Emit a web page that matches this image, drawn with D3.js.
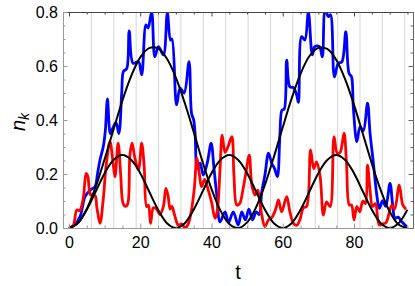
<!DOCTYPE html>
<html>
<head>
<meta charset="utf-8">
<script src="https://cdnjs.cloudflare.com/ajax/libs/d3/7.8.5/d3.min.js"></script>
<style>
body { margin: 0; background: #fff; }
text { font-family: "Liberation Sans", Arial, sans-serif; }
</style>
</head>
<body>
<svg width="415" height="286"></svg>
<script>
// tick values
var xTicks = [0, 20, 40, 60, 80],
	xMinor = [5, 10, 15, 25, 30, 35, 45, 50, 55, 65, 70, 75, 85, 90, 95],
	yTicks = [0, 0.2, 0.4, 0.6, 0.8],
	yMinor = [0.05, 0.1, 0.15, 0.25, 0.3, 0.35, 0.45, 0.5, 0.55, 0.65, 0.7, 0.75],
	gridT = [6.28, 12.57, 18.85, 25.13, 31.42, 37.7, 43.98, 50.27, 56.55, 62.83, 69.12, 75.4, 81.68, 87.96, 94.25];

// noisy curves
var blueT = [0, 1.5, 3.1, 4.5, 5.9, 7.3, 8.0, 8.7, 9.6, 10.2, 10.8, 11.6, 12.3, 13.2, 14.0, 14.8, 15.3, 16.2, 16.9, 18.0,
	19.5, 20.4, 21.6, 22.2, 23.2, 24.1, 25.1, 26.5, 27.6, 28.5, 28.9, 30.2, 31.2, 32.3, 33.7, 34.4, 35.0, 35.4, 36.0, 36.8,
	37.7, 38.8, 39.9, 40.7, 41.5, 42.4, 43.8, 44.8, 46.1, 47.5, 48.5, 49.5, 50.5, 51.5, 52.6, 53.4, 54.1, 55.0, 56.0, 56.9,
	57.7, 58.5, 59.2, 59.8, 60.4, 61.1, 62.0, 63.0, 63.9, 64.4, 65.3, 66.2, 67.2, 68.3, 69.0, 70.3, 71.1, 71.9, 72.8, 73.4,
	74.5, 75.6, 76.6, 77.7, 78.6, 79.3, 79.8, 80.8, 81.7, 82.6, 83.8, 84.5, 85.4, 86.4, 87.1, 88.0, 88.9, 90.1, 90.9, 91.5,
	92.4, 93.4, 94.8];
var blueN = [0, 0.01, 0.042, 0.116, 0.14, 0.153, 0.2, 0.252, 0.30, 0.36, 0.478, 0.35, 0.37, 0.39, 0.35, 0.50, 0.58, 0.59, 0.73, 0.61,
	0.616, 0.567, 0.752, 0.74, 0.80, 0.634, 0.672, 0.641, 0.797, 0.696, 0.70, 0.456, 0.518, 0.50, 0.616, 0.425, 0.40, 0.35, 0.22, 0.24,
	0.196, 0.24, 0.314, 0.22, 0.12, 0.023, 0.06, 0.02, 0.06, 0.011, 0.06, 0.03, 0.07, 0.03, 0.06, 0.05, 0.134, 0.196, 0.277, 0.24,
	0.22, 0.19, 0.344, 0.437, 0.44, 0.622, 0.523, 0.52, 0.493, 0.465, 0.709, 0.696, 0.80, 0.641, 0.672, 0.672, 0.634, 0.807, 0.783, 0.79,
	0.56, 0.61, 0.615, 0.727, 0.573, 0.56, 0.449, 0.32, 0.375, 0.36, 0.462, 0.351, 0.246, 0.122, 0.073, 0.10, 0.08, 0.165, 0.079, 0.036,
	0.04, 0.023, 0.005];

var redT = [0, 1.2, 2.2, 3.0, 4.0, 4.8, 5.3, 6.1, 7.3, 7.8, 8.7, 9.6, 10.4, 11.5, 12.3, 12.9, 13.8, 14.5, 15.2, 15.9,
	16.5, 17.1, 17.7, 18.5, 19.5, 20.4, 21.1, 21.8, 22.3, 22.9, 23.7, 24.6, 25.5, 26.5, 27.2, 27.8, 28.4, 28.9, 29.6, 30.7,
	31.6, 32.6, 33.5, 34.4, 35.2, 35.9, 36.6, 37.2, 38.1, 39.1, 40.0, 41.0, 41.6, 42.4, 43.0, 43.8, 44.6, 45.7, 46.3, 47.1,
	47.9, 48.8, 49.6, 50.6, 51.3, 52.2, 53.0, 54.1, 55.0, 56.0, 57.0, 58.1, 58.8, 59.7, 61.1, 62.0, 63.0, 63.9, 64.8, 65.8,
	66.7, 67.8, 68.7, 69.5, 70.5, 71.4, 72.3, 73.3, 74.4, 75.3, 76.1, 77.2, 77.9, 78.7, 79.3, 80.0, 80.8, 81.6, 82.5, 83.2,
	83.8, 84.5, 85.2, 86.0, 87.1, 88.0, 89.0, 90.6, 91.4, 92.7, 93.7, 94.6];
var redN = [0, 0.01, 0.067, 0.065, 0.11, 0.202, 0.19, 0.122, 0.12, 0.079, 0.017, 0.104, 0.227, 0.32, 0.25, 0.19, 0.314, 0.2, 0.091, 0.08,
	0.09, 0.27, 0.314, 0.26, 0.215, 0.314, 0.23, 0.079, 0.085, 0.017, 0.075, 0.07, 0.05, 0.08, 0.147, 0.12, 0.07, 0.08, 0.05, 0.01,
	0.015, 0.0, 0.016, 0.067, 0.15, 0.26, 0.2, 0.153, 0.18, 0.14, 0.097, 0.036, 0.06, 0.22, 0.344, 0.28, 0.30, 0.338, 0.196, 0.085,
	0.09, 0.14, 0.2, 0.27, 0.16, 0.122, 0.14, 0.048, 0.005, 0.03, 0.04, 0.073, 0.104, 0.06, 0.116, 0.06, 0.017, 0.01, 0.03, 0.075,
	0.08, 0.289, 0.22, 0.245, 0.19, 0.048, 0.097, 0.079, 0.338, 0.277, 0.28, 0.351, 0.24, 0.085, 0.085, 0.03, 0.08, 0.06, 0.1, 0.09,
	0.233, 0.14, 0.08, 0.09, 0.011, 0.015, 0.02, 0.085, 0.07, 0.159, 0.085, 0.07];

// smooth black curves, sampled every 2.5
var smoothT = [0, 2.5, 5, 7.5, 10, 12.5, 15, 17.5, 20, 22.5, 25, 27.5, 30, 32.5, 35, 37.5, 40, 42.5, 45, 47.5,
	50, 52.5, 55, 57.5, 60, 62.5, 65, 67.5, 70, 72.5, 75, 77.5, 80, 82.5, 85, 87.5, 90, 92.5, 95];
var bigN = [0, 0.018, 0.071, 0.153, 0.255, 0.365, 0.472, 0.564, 0.632, 0.666, 0.665, 0.627, 0.557, 0.463, 0.356, 0.245, 0.145, 0.065, 0.015, 0,
	0.021, 0.076, 0.160, 0.263, 0.373, 0.480, 0.571, 0.637, 0.667, 0.663, 0.623, 0.551, 0.456, 0.348, 0.239, 0.140, 0.061, 0.013, 0];
var smallN = [0, 0.018, 0.068, 0.135, 0.203, 0.252, 0.27, 0.252, 0.203, 0.135, 0.068, 0.018, 0, 0.018, 0.068, 0.135, 0.203, 0.252, 0.27, 0.252,
	0.203, 0.135, 0.068, 0.018, 0, 0.018, 0.068, 0.135, 0.203, 0.252, 0.27, 0.252, 0.203, 0.135, 0.068, 0.018, 0, 0.018, 0.068];

var svg = d3.select("svg"),
	pLeft = 63, pRight = 413, pTop = 12, pBottom = 228;

var x = d3.scaleLinear().domain([-1.68, 96.56]).range([pLeft, pRight]);
var y = d3.scaleLinear().domain([0, 0.8]).range([pBottom, pTop]);

svg.append("clipPath").attr("id", "clip")
	.append("rect").attr("x", pLeft).attr("y", pTop).attr("width", pRight - pLeft).attr("height", pBottom - pTop);

// grid lines
svg.append("g").selectAll("line")
	.data(gridT)
	.enter().append("line")
	.attr("x1", function(d) { return x(d); })
	.attr("x2", function(d) { return x(d); })
	.attr("y1", pTop).attr("y2", pBottom)
	.attr("stroke", "#d6d6d6").attr("stroke-width", 1);

var plot = svg.append("g").attr("clip-path", "url(#clip)");

var zip = function(ts, ns) {
	return ts.map(function(t, i) { return [t, ns[i]]; });
};

var line = d3.line()
	.x(function(d) { return x(d[0]); })
	.y(function(d) { return y(d[1]); })
	.curve(d3.curveCatmullRom.alpha(0.5));

plot.append("path").datum(zip(blueT, blueN))
	.attr("d", line).attr("fill", "none").attr("stroke", "#0000ff").attr("stroke-width", 2.8).attr("stroke-linejoin", "round");
plot.append("path").datum(zip(redT, redN))
	.attr("d", line).attr("fill", "none").attr("stroke", "#ff0000").attr("stroke-width", 2.8).attr("stroke-linejoin", "round");
plot.append("path").datum(zip(smoothT, bigN))
	.attr("d", line).attr("fill", "none").attr("stroke", "#000").attr("stroke-width", 2);
plot.append("path").datum(zip(smoothT, smallN))
	.attr("d", line).attr("fill", "none").attr("stroke", "#000").attr("stroke-width", 2);

// frame axes, ticks point inward
var addAxis = function(axis, tx, ty, color, labels) {
	var g = svg.append("g").attr("transform", "translate(" + tx + "," + ty + ")").call(axis);
	g.select(".domain").attr("stroke", color);
	g.selectAll(".tick line").attr("stroke", color);
	if (labels) g.selectAll("text").attr("fill", "#000").attr("font-size", 16);
	else g.selectAll("text").remove();
	return g;
};

addAxis(d3.axisBottom(x).tickValues(xMinor).tickSize(-2.5).tickSizeOuter(0), 0, pBottom, "#999", false);
addAxis(d3.axisTop(x).tickValues(xMinor).tickSize(-2.5).tickSizeOuter(0), 0, pTop, "#444", false);
addAxis(d3.axisLeft(y).tickValues(yMinor).tickSize(-2.5).tickSizeOuter(0), pLeft, 0, "#999", false);
addAxis(d3.axisRight(y).tickValues(yMinor).tickSize(-2.5).tickSizeOuter(0), pRight, 0, "#666", false);

addAxis(d3.axisBottom(x).tickValues(xTicks).tickSize(-4.5).tickSizeOuter(0).tickPadding(9).tickFormat(d3.format("d")), 0, pBottom, "#999", true);
addAxis(d3.axisTop(x).tickValues(xTicks).tickSize(-4.5).tickSizeOuter(0), 0, pTop, "#444", false);
addAxis(d3.axisLeft(y).tickValues(yTicks).tickSize(-4.5).tickSizeOuter(0).tickPadding(5).tickFormat(d3.format(".1f")), pLeft, 0, "#999", true);
addAxis(d3.axisRight(y).tickValues(yTicks).tickSize(-4.5).tickSizeOuter(0), pRight, 0, "#666", false);

// axis titles
svg.append("text")
	.attr("x", (pLeft + pRight) / 2).attr("y", 279)
	.attr("text-anchor", "middle").attr("font-size", 20)
	.text("t");

var yl = svg.append("text")
	.attr("transform", "translate(25,122) rotate(-90)")
	.attr("text-anchor", "middle").attr("font-size", 20).attr("font-style", "italic");
yl.append("tspan").text("n");
yl.append("tspan").attr("font-size", 14).attr("dy", 4).text("k");
</script>
</body>
</html>
